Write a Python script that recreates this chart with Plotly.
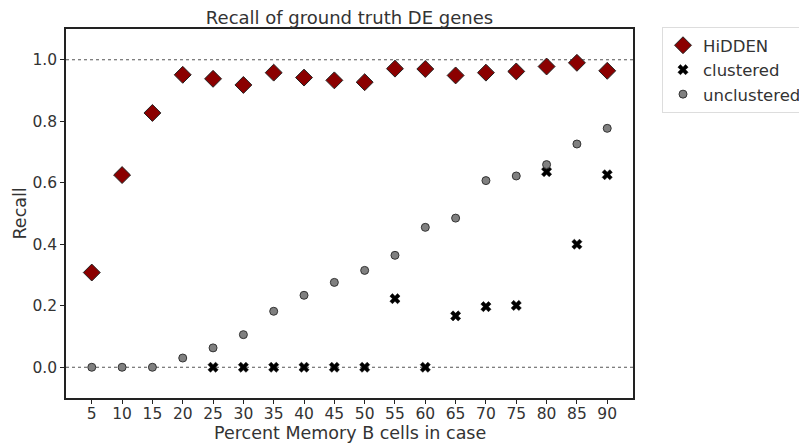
import plotly.graph_objects as go

pct = [5, 10, 15, 20, 25, 30, 35, 40, 45, 50, 55, 60, 65, 70, 75, 80, 85, 90]
hidden = [0.308, 0.625, 0.827, 0.951, 0.938, 0.918, 0.958, 0.942, 0.933, 0.927,
          0.971, 0.970, 0.949, 0.958, 0.962, 0.978, 0.990, 0.964]
clustered = [None, None, None, None, 0.0, 0.0, 0.0, 0.0, 0.0, 0.0,
             0.223, 0.0, 0.167, 0.197, 0.201, 0.636, 0.400, 0.626]
unclustered = [0.0, 0.0, 0.0, 0.030, 0.063, 0.106, 0.182, 0.234, 0.276, 0.315,
               0.364, 0.455, 0.485, 0.607, 0.622, 0.659, 0.726, 0.777]
y_ticks = [0.0, 0.2, 0.4, 0.6, 0.8, 1.0]

FONT = "DejaVu Sans"
TXT = "#333333"
# page body has an 8px default margin; figure margins compensate for it
ML, MR, MT, MB = 58, 182, 21, 53
W, H = 807, 443
PH = H - MT - MB
PW = W - ML - MR

fig = go.Figure()

for yv in (0.0, 1.0):
    fig.add_hline(y=yv, line=dict(color="#555555", width=1, dash="dot"), layer="below")

fig.add_trace(go.Scatter(
    x=pct, y=hidden, mode="markers", name="HiDDEN",
    marker=dict(symbol="diamond", size=13, color="#8B0000",
                line=dict(color="#222222", width=1)),
))
fig.add_trace(go.Scatter(
    x=pct, y=clustered, mode="markers", name="clustered",
    marker=dict(symbol="x", size=9, color="black",
                line=dict(color="black", width=0.5)),
))
fig.add_trace(go.Scatter(
    x=pct, y=unclustered, mode="markers", name="unclustered",
    marker=dict(symbol="circle", size=8, color="#808080",
                line=dict(color="#333333", width=1)),
))

fig.update_layout(
    width=W, height=H,
    margin=dict(l=ML, r=MR, t=MT, b=MB, autoexpand=False),
    paper_bgcolor="white", plot_bgcolor="white",
    font=dict(family=FONT, size=15, color=TXT),
    title=dict(text="Recall of ground truth DE genes", x=0.5, xref="paper",
               y=1 - 10 / H, yref="container", xanchor="center", yanchor="middle",
               font=dict(family=FONT, size=18, color=TXT)),
    showlegend=True,
    legend=dict(x=(654 - ML) / PW, y=1 + 2 / PH, xanchor="left", yanchor="top",
                bgcolor="white", bordercolor="#dddddd", borderwidth=1,
                font=dict(family=FONT, size=16.5, color=TXT),
                itemsizing="trace", tracegroupgap=0),
    annotations=[
        dict(text="Percent Memory B cells in case", xref="paper", yref="paper",
             x=0.5, y=-35.5 / PH, xanchor="center", yanchor="middle",
             showarrow=False, font=dict(family=FONT, size=17.5, color=TXT)),
        dict(text="Recall", xref="paper", yref="paper",
             x=-(ML - 11) / PW, y=0.5, xanchor="center", yanchor="middle",
             textangle=-90, showarrow=False,
             font=dict(family=FONT, size=17.5, color=TXT)),
    ],
)
fig.update_xaxes(
    range=[0.75, 94.25], tickmode="array", tickvals=pct,
    ticktext=[str(p) for p in pct], automargin=False,
    showgrid=False, zeroline=False,
    showline=True, linecolor="#222222", linewidth=1.5, mirror=True,
    ticks="outside", ticklen=4, tickcolor="#222222", ticklabelstandoff=-3,
    tickfont=dict(family=FONT, size=15.5, color=TXT),
)
fig.update_yaxes(
    range=[-0.1, 1.1], tickmode="array", tickvals=y_ticks,
    ticktext=[f"{v:.1f}" for v in y_ticks], automargin=False,
    showgrid=False, zeroline=False,
    showline=True, linecolor="#222222", linewidth=1.5, mirror=True,
    ticks="outside", ticklen=4, tickcolor="#222222",
    tickfont=dict(family=FONT, size=15.5, color=TXT),
)

fig.write_html("out.html")
